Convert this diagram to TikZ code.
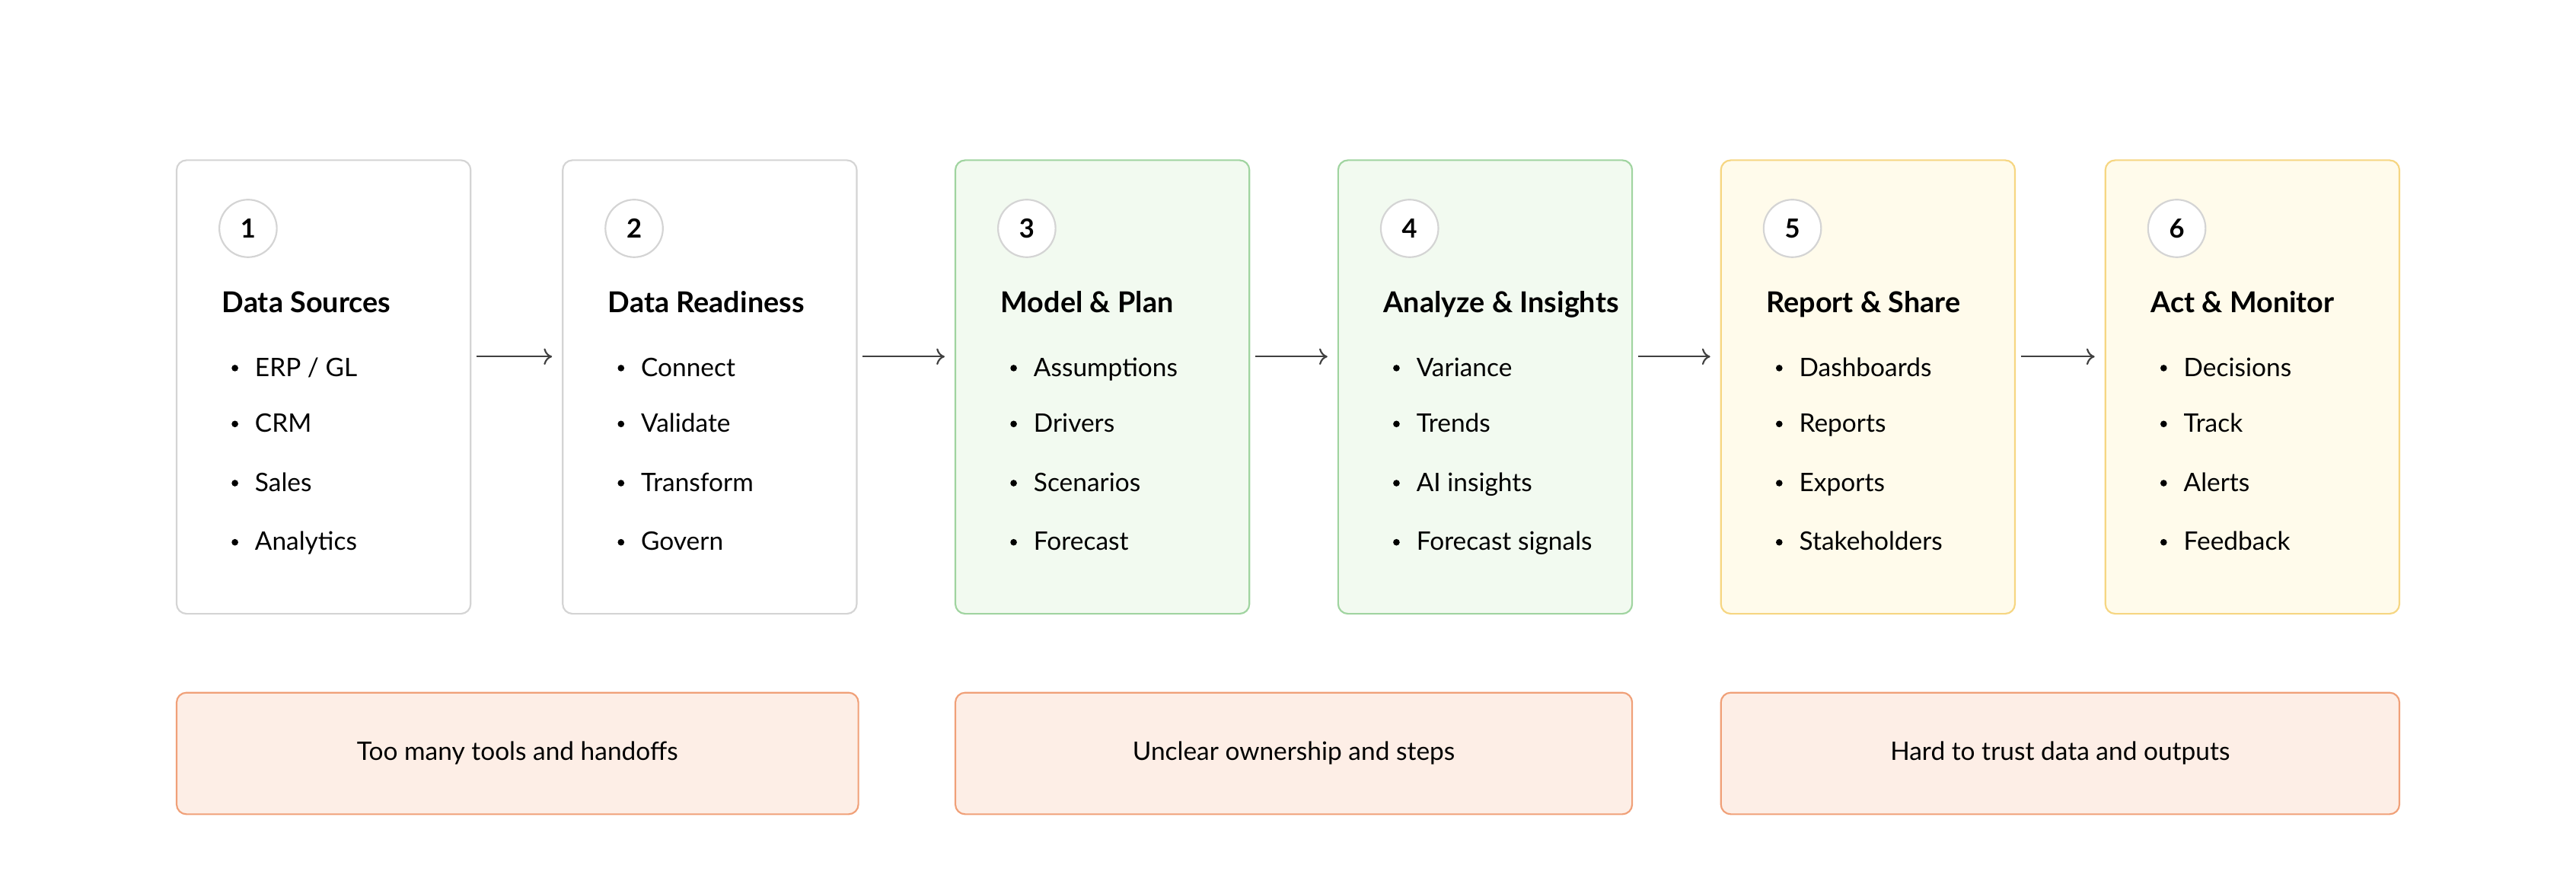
\documentclass[tikz,border=0pt]{standalone}
\usepackage{fontspec}
\setmainfont{Lato}
\usepackage{xcolor}
\usetikzlibrary{arrows.meta}
\definecolor{grayline}{RGB}{212,212,212}
\definecolor{greenline}{RGB}{160,212,160}
\definecolor{greenfill}{RGB}{242,250,240}
\definecolor{yellowline}{RGB}{246,214,130}
\definecolor{yellowfill}{RGB}{255,251,235}
\definecolor{orangeline}{RGB}{240,160,120}
\definecolor{orangefill}{RGB}{253,238,230}
\tikzset{
  stage/.style={draw,rounded corners=6pt,line width=1pt,minimum width=179pt,minimum height=276pt,anchor=north west,inner sep=0pt},
  pain/.style={draw=orangeline,fill=orangefill,rounded corners=6pt,line width=1pt,minimum height=74pt,anchor=north west,font=\fontsize{15.5}{18}\selectfont},
  num/.style={draw=grayline,fill=white,circle,line width=1pt,minimum size=35pt,inner sep=0pt,font=\fontsize{16}{18}\selectfont\bfseries},
  ttl/.style={anchor=base west,inner sep=0pt,font=\fontsize{17.5}{20}\selectfont\bfseries},
  item/.style={anchor=base west,inner sep=0pt,font=\fontsize{15.5}{18}\selectfont},
  flow/.style={-{To[length=5pt,width=10pt]},line width=1pt,color=black!75}
}
\begin{document}
\begin{tikzpicture}[x=1pt,y=1pt,yscale=-1]
\useasboundingbox (0,0) rectangle (1568,537.5);

% stage boxes
\node[stage,draw=grayline,fill=white] (s1) at (107,97) {};
\node[stage,draw=grayline,fill=white] (s2) at (342,97) {};
\node[stage,draw=greenline,fill=greenfill] (s3) at (581,97) {};
\node[stage,draw=greenline,fill=greenfill] (s4) at (814,97) {};
\node[stage,draw=yellowline,fill=yellowfill] (s5) at (1047,97) {};
\node[stage,draw=yellowline,fill=yellowfill] (s6) at (1281,97) {};

% numbers, titles and items
\foreach \s/\t/\a/\b/\c/\d [count=\i] in {
  s1/Data Sources/{ERP / GL}/CRM/Sales/Analytics,
  s2/Data Readiness/Connect/Validate/Transform/Govern,
  s3/Model \& Plan/Assumptions/Drivers/Scenarios/Forecast,
  s4/Analyze \& Insights/Variance/Trends/AI insights/Forecast signals,
  s5/Report \& Share/Dashboards/Reports/Exports/Stakeholders,
  s6/Act \& Monitor/Decisions/Track/Alerts/Feedback}{
  \node[num] (\s n) at ([xshift=44pt,yshift=42pt]\s.north west) {\i};
  \node[ttl] (\s t) at ([xshift=28pt,yshift=93pt]\s.north west) {\t};
  \foreach \txt/\dy [count=\j] in {{\a}/132,{\b}/166,{\c}/202,{\d}/238}{
    \node[item] (\s i\j) at ([xshift=48pt,yshift=\dy pt]\s.north west) {\txt};
    \fill ([xshift=36pt,yshift=\dy pt-5pt]\s.north west) circle (2pt);
  }
}

% arrows
\foreach \p/\q in {s1/s2,s2/s3,s3/s4,s4/s5,s5/s6}{
  \draw[flow] ([xshift=3pt,yshift=120pt]\p.north east) -- ([xshift=-6pt,yshift=120pt]\q.north west);
}

% pain points
\node[pain,minimum width=415pt] (p1) at (107,421) {Too many tools and handoffs};
\node[pain,minimum width=412pt] (p2) at (581,421) {Unclear ownership and steps};
\node[pain,minimum width=413pt] (p3) at (1047,421) {Hard to trust data and outputs};
\end{tikzpicture}
\end{document}
